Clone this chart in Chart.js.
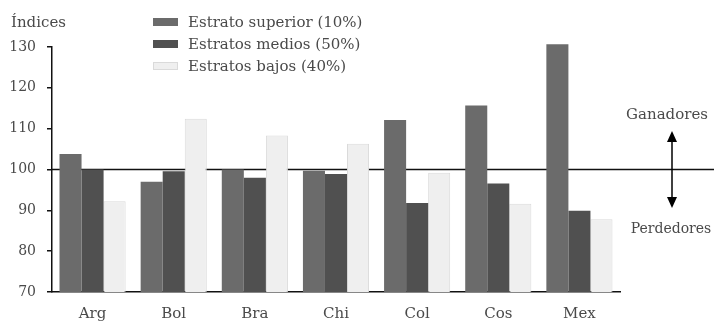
<!DOCTYPE html>
<html>
<head>
<meta charset="utf-8">
<script src="https://cdn.jsdelivr.net/npm/chart.js@4/dist/chart.umd.min.js"></script>
<style>
  html, body { margin: 0; padding: 0; background: #fff; }
  #wrap { width: 714px; height: 323px; position: relative; }
</style>
</head>
<body>
<div id="wrap"><canvas id="c" width="714" height="323"></canvas></div>
<script>
// Índices de ingreso por estrato, países de América Latina
const categories = ['Arg', 'Bol', 'Bra', 'Chi', 'Col', 'Cos', 'Mex'];
const seriesNames = ['Estrato superior (10%)', 'Estratos medios (50%)', 'Estratos bajos (40%)'];
const superior = [103.8, 97.0, 100.0, 99.7, 112.1, 115.7, 130.7];
const medios   = [100.0, 99.6, 98.0, 98.9, 91.8, 96.6, 89.9];
const bajos    = [92.2, 112.4, 108.3, 106.3, 99.2, 91.6, 87.8];
const yTicks = [70, 80, 90, 100, 110, 120, 130];

const FONT = '"DejaVu Serif", "Liberation Serif", serif';
const TEXT = '#4a4a4a';
const fills = ['#6b6b6b', '#505050', '#efefef'];
const borders = ['#6b6b6b', '#505050', '#dadada'];

const overlay = {
  id: 'overlay',
  beforeDatasetsDraw(chart) {
    const { ctx, chartArea, scales } = chart;
    const y = scales.y.getPixelForValue(100);
    ctx.save();
    ctx.strokeStyle = '#111';
    ctx.lineWidth = 1.3;
    ctx.beginPath();
    ctx.moveTo(chartArea.left, y);
    ctx.lineTo(chart.width, y);
    ctx.stroke();
    ctx.restore();
  },
  afterDraw(chart) {
    const { ctx } = chart;
    ctx.save();
    ctx.fillStyle = TEXT;
    ctx.font = '15px ' + FONT;
    ctx.textBaseline = 'middle';
    ctx.textAlign = 'left';
    ctx.fillText('Índices', 11, 23);

    // leyenda
    const lx = 153, rows = [22, 44, 66];
    seriesNames.forEach((name, i) => {
      ctx.fillStyle = fills[i];
      ctx.fillRect(lx, rows[i] - 4, 25, 8);
      ctx.strokeStyle = borders[i];
      ctx.lineWidth = 1;
      ctx.strokeRect(lx + 0.5, rows[i] - 3.5, 24, 7);
      ctx.fillStyle = TEXT;
      ctx.fillText(name, 188, rows[i] + 1);
    });

    // ganadores / perdedores
    ctx.textAlign = 'center';
    ctx.fillText('Ganadores', 667, 115);
    ctx.font = '14px ' + FONT;
    ctx.fillText('Perdedores', 671, 229);
    const ax = 672, top = 131, bot = 208;
    ctx.strokeStyle = '#000';
    ctx.fillStyle = '#000';
    ctx.lineWidth = 1.5;
    ctx.beginPath();
    ctx.moveTo(ax, top + 8);
    ctx.lineTo(ax, bot - 8);
    ctx.stroke();
    ctx.beginPath();
    ctx.moveTo(ax, top); ctx.lineTo(ax - 5, top + 11); ctx.lineTo(ax + 5, top + 11); ctx.closePath(); ctx.fill();
    ctx.beginPath();
    ctx.moveTo(ax, bot); ctx.lineTo(ax - 5, bot - 11); ctx.lineTo(ax + 5, bot - 11); ctx.closePath(); ctx.fill();
    ctx.restore();
  }
};

new Chart(document.getElementById('c'), {
  type: 'bar',
  data: {
    labels: categories,
    datasets: [superior, medios, bajos].map((d, i) => ({
      label: seriesNames[i],
      data: d,
      backgroundColor: fills[i],
      borderColor: borders[i],
      borderWidth: i === 2 ? 1 : 0,
      categoryPercentage: 0.815,
      barPercentage: 1.0,
      clip: { left: 0, top: false, right: 0, bottom: 0 }
    }))
  },
  options: {
    responsive: false,
    animation: false,
    events: [],
    layout: { padding: { top: 47, right: 94, left: 0, bottom: 0 } },
    plugins: { legend: { display: false }, tooltip: { enabled: false } },
    scales: {
      x: {
        grid: { display: false, drawTicks: false },
        border: { display: true, color: '#111', width: 1.5 },
        ticks: { color: TEXT, font: { family: FONT, size: 15 }, padding: 13 },
        afterFit(s) { s.height = 31; }
      },
      y: {
        min: 70, max: 130,
        afterBuildTicks(s) { s.ticks = yTicks.map(v => ({ value: v })); },
        grid: { display: true, drawOnChartArea: false, drawTicks: true, tickLength: 5, color: '#111', lineWidth: 1.5 },
        border: { display: true, color: '#111', width: 1.5 },
        ticks: { color: TEXT, font: { family: FONT, size: 14 }, padding: 11 },
        afterFit(s) { s.width = 52; }
      }
    }
  },
  plugins: [overlay]
});
</script>
</body>
</html>
